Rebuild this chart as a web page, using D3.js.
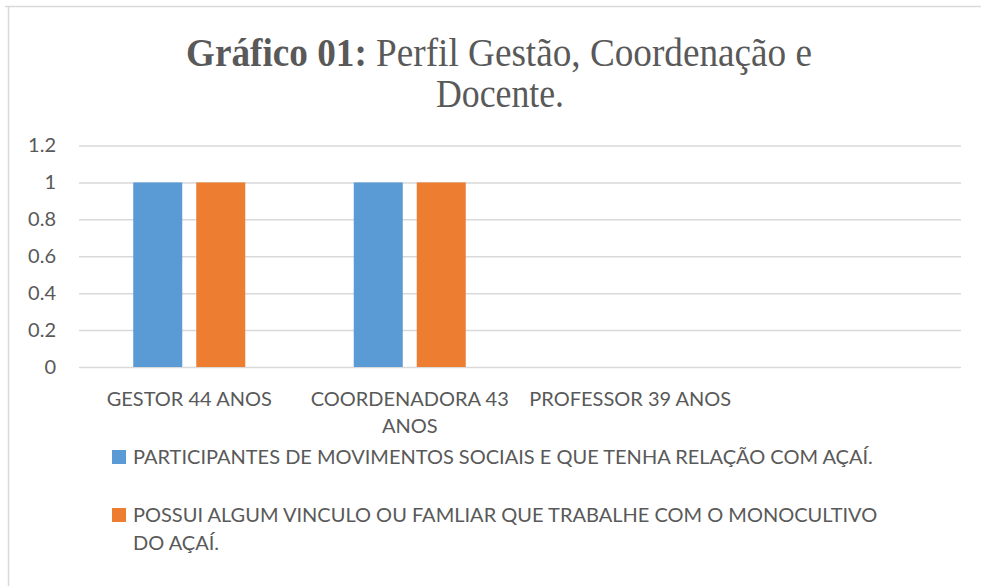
<!DOCTYPE html>
<html>
<head>
<meta charset="utf-8">
<script src="https://cdn.jsdelivr.net/npm/d3@7"></script>
<style>
  body { margin: 0; background: #fff; }
  svg { display: block; }
  text { fill: #595959; }
</style>
</head>
<body>
<svg id="chart" width="981" height="586"></svg>
<script>
// data
const categories = ["GESTOR 44 ANOS", "COORDENADORA 43 ANOS", "PROFESSOR 39 ANOS", ""];
const series_names = [
  "PARTICIPANTES DE MOVIMENTOS SOCIAIS E QUE TENHA RELAÇÃO COM AÇAÍ.",
  "POSSUI ALGUM VINCULO OU FAMLIAR QUE TRABALHE COM O MONOCULTIVO DO AÇAÍ."
];
const participantes = [1, 1, 0, 0];
const vinculo = [1, 1, 0, 0];
const y_ticks = [0, 0.2, 0.4, 0.6, 0.8, 1, 1.2];
const colors = ["#5b9bd5", "#ed7d31"];

const svg = d3.select("svg#chart");
const margin = { left: 79, right: 20, top: 145.5, bottom: 219 };
const width = 981 - margin.left - margin.right;
const height = 586 - margin.top - margin.bottom;
const label_font = "Lato, 'Open Sans', sans-serif";
const label_size = "20px";

// chart area border (only top and left edges fall in the frame)
svg.append("path")
  .attr("d", "M5,6.5 H981 M8.5,6 V586")
  .attr("stroke", "#d9d9d9")
  .attr("stroke-width", 1.5)
  .attr("fill", "none");

// title (the original is a little condensed)
const title = svg.append("text")
  .attr("x", 499)
  .attr("y", 66)
  .attr("text-anchor", "middle")
  .attr("textLength", 626)
  .attr("lengthAdjust", "spacingAndGlyphs")
  .style("font-family", "'Liberation Serif', 'Times New Roman', serif")
  .style("font-size", "40px");
title.append("tspan").style("font-weight", "bold").text("Gráfico 01:");
title.append("tspan").text(" Perfil Gestão, Coordenação e");
svg.append("text")
  .attr("x", 500)
  .attr("y", 107)
  .attr("text-anchor", "middle")
  .attr("textLength", 128)
  .attr("lengthAdjust", "spacingAndGlyphs")
  .style("font-family", "'Liberation Serif', 'Times New Roman', serif")
  .style("font-size", "40px")
  .text("Docente.");

const g = svg.append("g")
  .attr("transform", `translate(${margin.left}, ${margin.top})`);

const y = d3.scaleLinear().domain([0, 1.2]).range([height, 0]);
const x0 = d3.scaleBand().domain(d3.range(categories.length)).range([0, width]);
const cluster = x0.bandwidth() * 0.508;
const x1 = d3.scaleBand().domain([0, 1]).range([0, cluster]).paddingInner(0.222);

// gridlines + y labels
const y_axis = g.append("g")
  .call(d3.axisLeft(y).tickValues(y_ticks).tickSize(-width).tickPadding(23)
    .tickFormat((d) => d3.format("")(+d.toFixed(1))));
y_axis.select(".domain").remove();
y_axis.selectAll(".tick line").attr("stroke", "#d9d9d9").attr("stroke-width", 1.5);
y_axis.selectAll(".tick text")
  .style("font-family", label_font)
  .style("font-size", label_size)
  .attr("fill", "#595959");

// bars
const rows = categories.map((c, i) => ({ i: i, values: [participantes[i], vinculo[i]] }));
const groups = g.selectAll("g.cat")
  .data(rows)
  .join("g")
  .attr("class", "cat")
  .attr("transform", (d) => `translate(${x0(d.i) + (x0.bandwidth() - cluster) / 2}, 0)`);
groups.selectAll("rect")
  .data((d) => d.values.map((v, s) => ({ s: s, v: v })))
  .join("rect")
  .attr("x", (d) => x1(d.s))
  .attr("width", x1.bandwidth())
  .attr("y", (d) => y(d.v))
  .attr("height", (d) => height - y(d.v))
  .attr("fill", (d) => colors[d.s]);

// category labels, wrapped like the original
function wrap(text, max_width) {
  text.each(function () {
    const t = d3.select(this);
    const words = t.text().split(/\s+/);
    const x = t.attr("x");
    t.text(null);
    let line = [];
    let tspan = t.append("tspan").attr("x", x).attr("dy", 0);
    words.forEach((w) => {
      line.push(w);
      tspan.text(line.join(" "));
      if (tspan.node().getComputedTextLength() > max_width && line.length > 1) {
        line.pop();
        tspan.text(line.join(" "));
        line = [w];
        tspan = t.append("tspan").attr("x", x).attr("dy", 27).text(w);
      }
    });
  });
}

g.selectAll("text.cat")
  .data(categories)
  .join("text")
  .attr("class", "cat")
  .attr("x", (d, i) => x0(i) + x0.bandwidth() / 2)
  .attr("y", height + 39)
  .attr("text-anchor", "middle")
  .style("font-family", label_font)
  .style("font-size", label_size)
  .text((d) => d)
  .call(wrap, 215);

// legend
const legend = svg.append("g").attr("transform", "translate(112, 0)");
const legend_rows = [
  { s: 0, lines: [series_names[0]], y: 464 },
  { s: 1, lines: ["POSSUI ALGUM VINCULO OU FAMLIAR QUE TRABALHE COM O MONOCULTIVO", "DO AÇAÍ."], y: 522 }
];
legend_rows.forEach((r) => {
  legend.append("rect")
    .attr("x", 0)
    .attr("y", r.y - 14)
    .attr("width", 14)
    .attr("height", 14)
    .attr("fill", colors[r.s]);
  const t = legend.append("text")
    .attr("x", 21)
    .attr("y", r.y)
    .style("font-family", label_font)
    .style("font-size", label_size);
  r.lines.forEach((l, k) => {
    t.append("tspan").attr("x", 21).attr("dy", k ? 28 : 0).text(l);
  });
});
</script>
</body>
</html>
